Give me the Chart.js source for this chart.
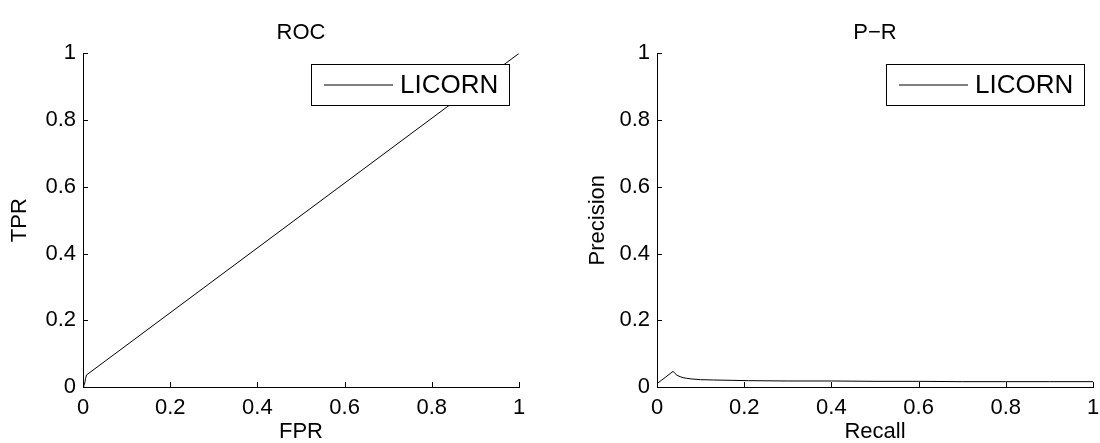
<!DOCTYPE html>
<html>
<head>
<meta charset="utf-8">
<script src="https://cdn.jsdelivr.net/npm/chart.js@4"></script>
<style>
  html, body { margin: 0; padding: 0; background: #fff; overflow: hidden; }
  .wrap { position: relative; width: 1100px; height: 443px; }
  canvas { position: absolute; top: 0; }
  #rocChart { left: 0; }
  #prChart { left: 550px; }
</style>
</head>
<body>
<div class="wrap">
  <canvas id="rocChart" width="550" height="443"></canvas>
  <canvas id="prChart" width="550" height="443"></canvas>
</div>
<script>
const seriesName = 'LICORN';

// ROC curve
const rocFpr = [0, 0.002, 0.004, 0.006, 0.008, 1];
const rocTpr = [0, 0.004, 0.012, 0.026, 0.036, 1];

// precision-recall curve
const prRecall = [0, 0.01, 0.02, 0.03, 0.037, 0.041, 0.046, 0.053, 0.06, 0.068, 0.08, 0.1, 0.13, 0.17, 0.21, 0.3, 0.4, 0.5, 0.6, 0.7, 0.8, 0.9, 1];
const prPrecision = [0.01, 0.02, 0.03, 0.04, 0.047, 0.041, 0.035, 0.031, 0.028, 0.026, 0.024, 0.022, 0.021, 0.02, 0.019, 0.018, 0.018, 0.017, 0.017, 0.016, 0.016, 0.016, 0.016];

const tickValues = [0, 0.2, 0.4, 0.6, 0.8, 1];
const tickLabels = ['0', '0.2', '0.4', '0.6', '0.8', '1'];

const FONT = 'Liberation Sans, Arial, Helvetica, sans-serif';
Chart.defaults.color = '#000';
Chart.defaults.font.family = FONT;

// matlab style ticks pointing into the plot
const inwardTicks = {
    id: 'inwardTicks',
    afterDraw(chart) {
        const {ctx, chartArea, scales: {x, y}} = chart;
        ctx.save();
        ctx.strokeStyle = '#000';
        ctx.lineWidth = 1;
        ctx.beginPath();
        x.ticks.forEach(t => {
            const px = Math.round(x.getPixelForValue(t.value)) + 0.5;
            ctx.moveTo(px, chartArea.bottom);
            ctx.lineTo(px, chartArea.bottom - 5);
        });
        y.ticks.forEach(t => {
            const py = Math.round(y.getPixelForValue(t.value)) + 0.5;
            ctx.moveTo(chartArea.left, py);
            ctx.lineTo(chartArea.left + 5, py);
        });
        ctx.stroke();
        ctx.restore();
    }
};

// boxed legend in the upper right corner of the axes
const boxLegend = {
    id: 'boxLegend',
    afterDatasetsDraw(chart, args, opts) {
        const {ctx, chartArea} = chart;
        const ds = chart.data.datasets[0];
        const w = 198, h = 41;
        const x = Math.round(chartArea.right - opts.right - w);
        const y = Math.round(chartArea.top + 11);
        ctx.save();
        ctx.fillStyle = '#fff';
        ctx.fillRect(x, y, w, h);
        ctx.strokeStyle = '#000';
        ctx.lineWidth = 1;
        ctx.strokeRect(x + 0.5, y + 0.5, w, h);
        ctx.beginPath();
        ctx.moveTo(x + 13, y + h / 2 + 0.5);
        ctx.lineTo(x + 82, y + h / 2 + 0.5);
        ctx.strokeStyle = ds.borderColor;
        ctx.stroke();
        ctx.fillStyle = '#000';
        ctx.font = '26px ' + FONT;
        ctx.textBaseline = 'middle';
        ctx.textAlign = 'left';
        ctx.fillText(ds.label, x + 89, y + h / 2 + 1);
        ctx.restore();
    }
};

function makeChart(id, title, xTitle, yTitle, xs, ys, padLeft, yWidth, padRight, legendRight) {
    return new Chart(document.getElementById(id), {
        type: 'line',
        data: {
            datasets: [{
                label: seriesName,
                data: xs.map((v, i) => ({x: v, y: ys[i]})),
                borderColor: '#000',
                borderWidth: 1,
                pointRadius: 0,
                tension: 0,
                fill: false
            }]
        },
        options: {
            responsive: false,
            animation: false,
            devicePixelRatio: 1,
            layout: {padding: {left: padLeft, right: padRight, top: 0, bottom: 0}},
            plugins: {
                legend: {display: false},
                tooltip: {enabled: false},
                title: {
                    display: true,
                    text: title,
                    fullSize: false,
                    font: {size: 22, weight: 'normal'},
                    padding: {top: 20, bottom: 7}
                },
                boxLegend: {right: legendRight}
            },
            scales: {
                x: {
                    type: 'linear',
                    min: 0,
                    max: 1,
                    afterBuildTicks: s => { s.ticks = tickValues.map(v => ({value: v})); },
                    afterFit: s => { s.height = 56; s.paddingLeft = 0; s.paddingRight = 0; },
                    grid: {display: false, drawTicks: false},
                    border: {display: true, color: '#000', width: 1},
                    ticks: {
                        padding: 8,
                        maxRotation: 0,
                        autoSkip: false,
                        font: {size: 22},
                        callback: (v, i) => tickLabels[i]
                    },
                    title: {
                        display: true,
                        text: xTitle,
                        font: {size: 22, lineHeight: 1},
                        padding: {top: 0, bottom: 0}
                    }
                },
                y: {
                    type: 'linear',
                    min: 0,
                    max: 1,
                    afterBuildTicks: s => { s.ticks = tickValues.map(v => ({value: v})); },
                    afterFit: s => { s.width = yWidth; s.paddingTop = 0; s.paddingBottom = 0; },
                    grid: {display: false, drawTicks: false},
                    border: {display: true, color: '#000', width: 1},
                    ticks: {
                        padding: 7,
                        autoSkip: false,
                        font: {size: 22},
                        callback: (v, i) => tickLabels[i]
                    },
                    title: {
                        display: true,
                        text: yTitle,
                        font: {size: 22, lineHeight: 1},
                        padding: {top: 9, bottom: 0}
                    }
                }
            }
        },
        plugins: [inwardTicks, boxLegend]
    });
}

const rocChart = makeChart('rocChart', 'ROC', 'FPR', 'TPR', rocFpr, rocTpr, 0, 83, 31, 10);
const prChart = makeChart('prChart', 'P\u2212R', 'Recall', 'Precision', prRecall, prPrecision, 28, 79, 7, 9);
</script>
</body>
</html>
